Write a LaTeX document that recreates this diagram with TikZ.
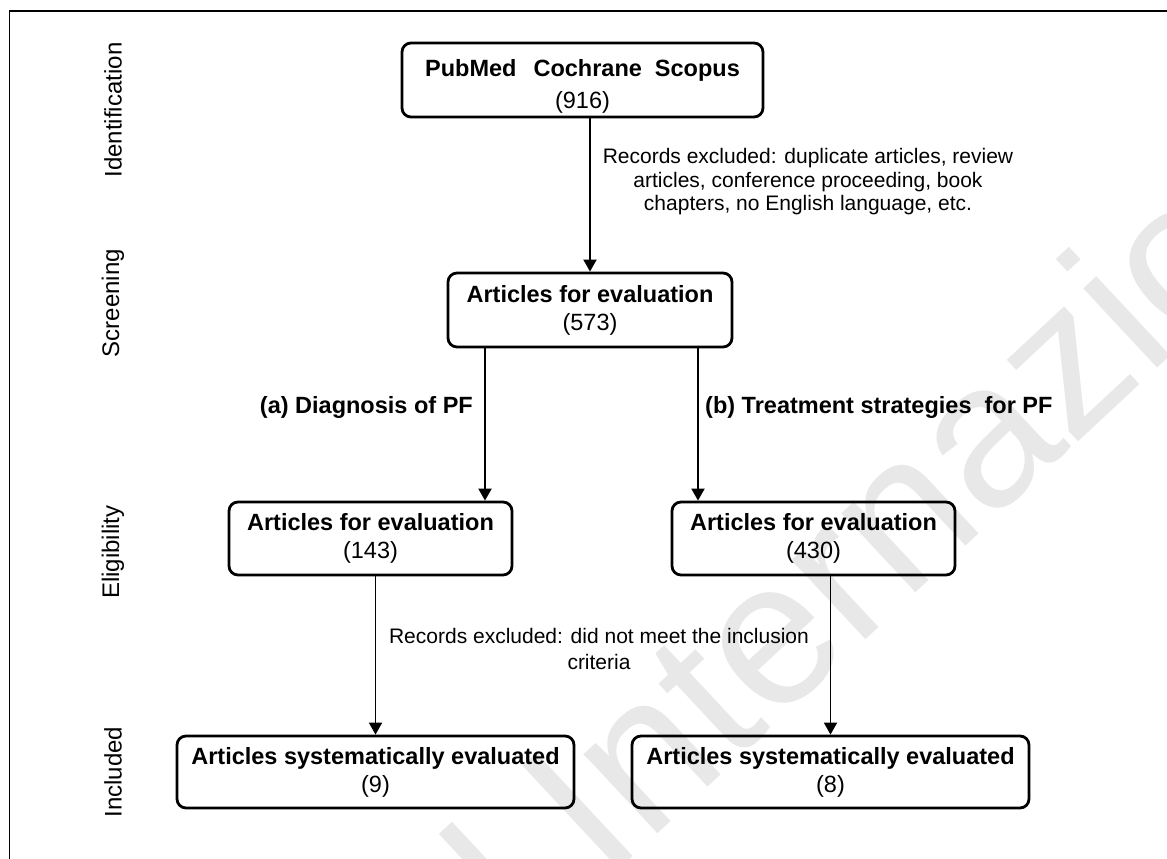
\documentclass[tikz,border=0pt]{standalone}
\usepackage{fontspec}
\setmainfont{Liberation Sans}
\usetikzlibrary{arrows.meta}
\begin{document}
\begin{tikzpicture}[x=1pt,y=-1pt,
  box/.style={draw, line width=2.8pt, rounded corners=9pt, align=center, inner sep=0pt,
    font=\fontsize{23.5}{28}\selectfont},
  arr/.style={line width=1.9pt, -{Triangle[width=13pt,length=12pt]}},
  branchlabel/.style={font=\fontsize{23.5}{28}\selectfont\bfseries, inner sep=0pt},
  note/.style={font=\fontsize{21}{23.5}\selectfont, align=center, inner sep=0pt},
  phase/.style={font=\fontsize{24}{28}\selectfont, rotate=90, inner sep=0pt},
  wmark/.style={font=\fontsize{205}{205}\selectfont, text=black!9, inner sep=0pt}]
\useasboundingbox (0,0) rectangle (1167,859);
% watermark
\node[wmark, rotate=43, anchor=base west] (wm) at (447,1030) {al Internazion};
% frame
\draw[line width=1.2pt] (9.5,859) -- (9.5,11) -- (1167,11);
% phase labels
\node[phase] (pid) at (113,110) {Identification};
\node[phase] (psc) at (113,303) {Screening};
\node[phase] (pel) at (113,552) {Eligibility};
\node[phase] (pin) at (113,772) {Included};
% boxes
\node[box, minimum width=361pt, minimum height=74pt] (b1) at (582.5,80)
  {\rule{0pt}{29pt}\textbf{PubMed\hspace{17pt}Cochrane\hspace{13pt}Scopus}\\[4pt](916)};
\node[box, minimum width=284pt, minimum height=74pt] (b2) at (590,310)
  {\textbf{Articles for evaluation}\\(573)};
\node[box, minimum width=283pt, minimum height=73pt] (b143) at (370.5,538.5)
  {\textbf{Articles for evaluation}\\(143)};
\node[box, minimum width=283pt, minimum height=73pt] (b430) at (813.5,538.5)
  {\textbf{Articles for evaluation}\\(430)};
\node[box, minimum width=397pt, minimum height=72pt] (b9) at (375.5,772)
  {\textbf{Articles systematically evaluated}\\(9)};
\node[box, minimum width=397pt, minimum height=72pt] (b8) at (830.5,772)
  {\textbf{Articles systematically evaluated}\\(8)};
% branch x positions
\coordinate (xa) at (485,0);
\coordinate (xb) at (698,0);
% connectors
\draw[arr] (b1.south -| b2.north) -- (b2.north);
\draw[arr] (b2.south -| xa) -- (b143.north -| xa);
\draw[arr] (b2.south -| xb) -- (b430.north -| xb);
\draw[arr] (b143.south -| b9.north) -- (b9.north);
\draw[arr] (b430.south -| b8.north) -- (b8.north);
% labels
\node[branchlabel, anchor=east] (la) at (473,407) {(a) Diagnosis of PF};
\node[branchlabel, anchor=west] (lb) at (705,407) {(b) Treatment strategies\ \ for PF};
\node[note] (n1) at (808,182) {Records excluded: duplicate articles, review\\articles, conference proceeding, book\\chapters, no English language, etc.};
\node[note, font=\fontsize{21}{26}\selectfont] (n2) at (599,649) {Records excluded: did not meet the inclusion\\criteria};
\end{tikzpicture}
\end{document}
